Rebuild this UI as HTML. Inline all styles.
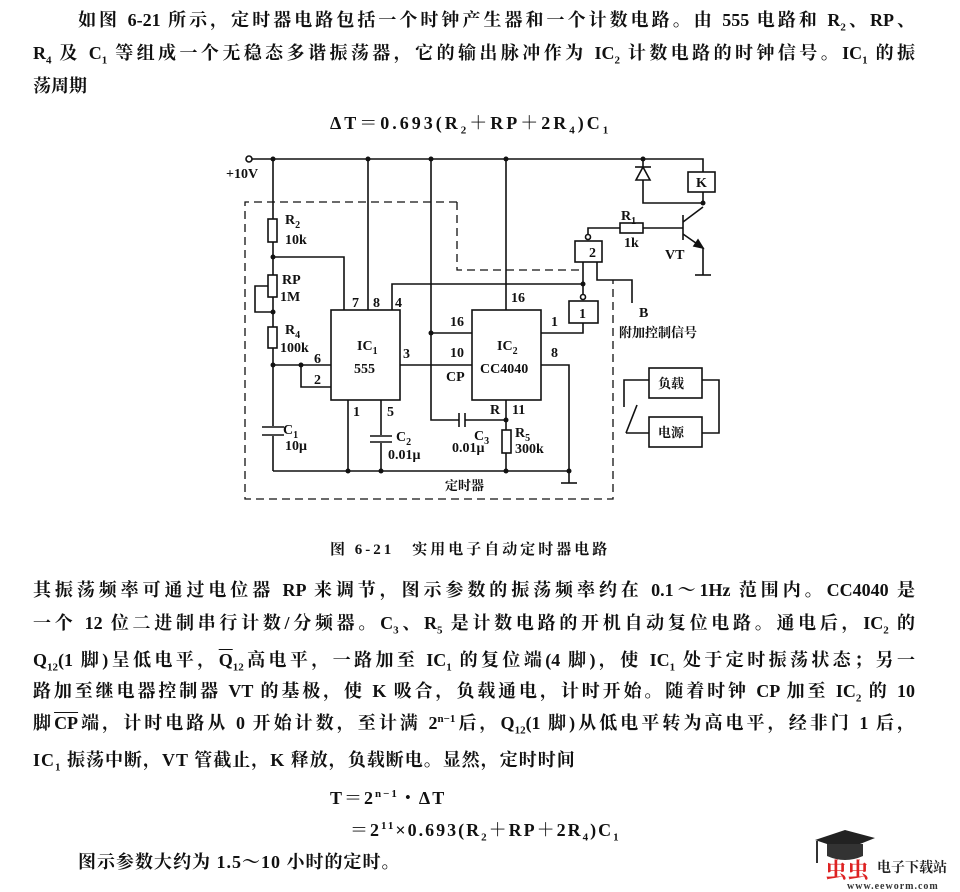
<!DOCTYPE html>
<html><head><meta charset="utf-8"><style>
body{margin:0;background:#fff;}
#w{position:relative;width:960px;height:892px;overflow:hidden;background:#fff;color:#111;font-family:"Liberation Serif","Noto Serif CJK SC",serif;font-weight:bold;}
.l{position:absolute;font-size:18px;line-height:22px;white-space:nowrap;}
.j{text-align:justify;text-align-last:justify;white-space:normal;height:22px;overflow:hidden;}
.f{letter-spacing:2px;}
sub,sup{font-size:11px;line-height:0;}
svg text{font-family:"Liberation Serif","Noto Serif CJK SC",serif;font-weight:bold;fill:#111;}
</style></head><body><div id="w">
<div class="l j" style="left:78px;top:9px;width:837px">如图 6-21 所示，定时器电路包括一个时钟产生器和一个计数电路。由 555 电路和 R<sub>2</sub>、RP、</div>
<div class="l j" style="left:33px;top:42px;width:882px">R<sub>4</sub> 及 C<sub>1</sub> 等组成一个无稳态多谐振荡器，它的输出脉冲作为 IC<sub>2</sub> 计数电路的时钟信号。IC<sub>1</sub> 的振</div>
<div class="l" style="left:33px;top:75px">荡周期</div>
<div class="l f" style="left:330px;top:112px;letter-spacing:3px">ΔT＝0.693(R<sub>2</sub>＋RP＋2R<sub>4</sub>)C<sub>1</sub></div>

<svg style="position:absolute;left:0;top:0" width="960" height="560" viewBox="0 0 960 560">
<g stroke="#111" stroke-width="1.6" fill="none">
<circle cx="249" cy="159" r="3" fill="#fff"/>
<polyline points="252,159 703,159 703,172"/>
<rect x="688" y="172" width="27" height="20"/>
<polyline points="703,192 703,203 643,203 643,159"/>
<polygon points="643,167 636,180 650,180" fill="#fff"/>
<line x1="635" y1="167" x2="651" y2="167"/>
<line x1="273" y1="159" x2="273" y2="471"/>
<rect x="268" y="219" width="9" height="23" fill="#fff"/>
<rect x="268" y="275" width="9" height="22" fill="#fff"/>
<rect x="268" y="327" width="9" height="21" fill="#fff"/>
<polyline points="268,286 255,286 255,312 273,312"/>
<polyline points="273,257 344,257 344,310"/>
<line x1="273" y1="365" x2="331" y2="365"/>
<polyline points="301,365 301,387 331,387"/>
<rect x="262" y="426" width="22" height="10" fill="#fff" stroke="none"/>
<line x1="262" y1="427" x2="284" y2="427"/><line x1="262" y1="435" x2="284" y2="435"/>
<rect x="331" y="310" width="69" height="90"/>
<line x1="368" y1="159" x2="368" y2="310"/>
<polyline points="392,310 392,284 583,284"/>
<line x1="348" y1="400" x2="348" y2="471"/>
<line x1="381" y1="400" x2="381" y2="471"/>
<rect x="370" y="435" width="22" height="8" fill="#fff" stroke="none"/>
<line x1="370" y1="436" x2="392" y2="436"/><line x1="370" y1="442" x2="392" y2="442"/>
<line x1="273" y1="471" x2="569" y2="471"/>
<line x1="400" y1="365" x2="472" y2="365"/>
<rect x="472" y="310" width="69" height="90"/>
<polyline points="431,159 431,420 459,420"/>
<line x1="431" y1="333" x2="472" y2="333"/>
<line x1="459" y1="413" x2="459" y2="427"/><line x1="465" y1="413" x2="465" y2="427"/>
<polyline points="465,420 506,420"/>
<line x1="506" y1="159" x2="506" y2="310"/>
<line x1="506" y1="400" x2="506" y2="471"/>
<rect x="502" y="430" width="9" height="23" fill="#fff"/>
<polyline points="541,365 569,365 569,483"/>
<line x1="561" y1="483" x2="577" y2="483"/>
<polyline points="541,333 583,333 583,323"/>
<rect x="569" y="301" width="29" height="22"/>
<circle cx="583" cy="297" r="2.5" fill="#fff"/>
<line x1="583" y1="294" x2="583" y2="262"/>
<rect x="575" y="241" width="27" height="21"/>
<circle cx="588" cy="237" r="2.5" fill="#fff"/>
<polyline points="588,234 588,228 620,228"/>
<rect x="620" y="223" width="23" height="10"/>
<line x1="643" y1="228" x2="683" y2="228"/>
<polyline points="597,262 597,280 632,280 632,303"/>
<line x1="683" y1="215" x2="683" y2="240"/>
<line x1="683" y1="222" x2="703" y2="207"/>
<polyline points="683,234 703,248 703,275"/>
<polygon points="703,248 694,246 698,240" fill="#111"/>
<line x1="695" y1="275" x2="711" y2="275"/>
<rect x="649" y="368" width="53" height="30"/>
<rect x="649" y="417" width="53" height="30"/>
<polyline points="649,380 624,380 624,407"/>
<line x1="637" y1="405" x2="626" y2="433"/>
<line x1="626" y1="433" x2="649" y2="433"/>
<polyline points="702,380 719,380 719,433 702,433"/>
<polyline stroke-dasharray="8,5" stroke-width="1.3" points="457,202 245,202 245,499 613,499 613,280"/>
<polyline stroke-dasharray="8,5" stroke-width="1.3" points="457,202 457,270 583,270"/>
</g>
<g fill="#111">
<circle cx="273" cy="159" r="2.5"/><circle cx="368" cy="159" r="2.5"/><circle cx="431" cy="159" r="2.5"/><circle cx="506" cy="159" r="2.5"/><circle cx="643" cy="159" r="2.5"/>
<circle cx="273" cy="257" r="2.5"/><circle cx="273" cy="312" r="2.5"/><circle cx="273" cy="365" r="2.5"/><circle cx="301" cy="365" r="2.5"/>
<circle cx="348" cy="471" r="2.5"/><circle cx="381" cy="471" r="2.5"/><circle cx="506" cy="471" r="2.5"/><circle cx="569" cy="471" r="2.5"/>
<circle cx="431" cy="333" r="2.5"/><circle cx="506" cy="420" r="2.5"/><circle cx="583" cy="284" r="2.5"/><circle cx="703" cy="203" r="2.5"/>
</g>
<g font-size="14">
<text x="226" y="178">+10V</text>
<text x="285" y="224">R<tspan font-size="10" dy="4">2</tspan></text><text x="285" y="244">10k</text>
<text x="282" y="284">RP</text><text x="280" y="301">1M</text>
<text x="285" y="334">R<tspan font-size="10" dy="4">4</tspan></text><text x="280" y="352">100k</text>
<text x="314" y="363">6</text><text x="314" y="384">2</text>
<text x="352" y="307">7</text><text x="373" y="307">8</text><text x="395" y="307">4</text>
<text x="357" y="350">IC<tspan font-size="10" dy="4">1</tspan></text><text x="354" y="373">555</text>
<text x="403" y="358">3</text><text x="353" y="416">1</text><text x="387" y="416">5</text>
<text x="283" y="434">C<tspan font-size="10" dy="4">1</tspan></text><text x="285" y="450">10μ</text>
<text x="396" y="441">C<tspan font-size="10" dy="4">2</tspan></text><text x="388" y="459">0.01μ</text>
<text x="450" y="326">16</text><text x="450" y="357">10</text><text x="446" y="381">CP</text>
<text x="497" y="350">IC<tspan font-size="10" dy="4">2</tspan></text><text x="480" y="373">CC4040</text>
<text x="511" y="302">16</text><text x="551" y="326">1</text><text x="551" y="357">8</text>
<text x="490" y="414">R</text><text x="512" y="414">11</text>
<text x="474" y="440">C<tspan font-size="10" dy="4">3</tspan></text><text x="452" y="452">0.01μ</text>
<text x="515" y="437">R<tspan font-size="10" dy="4">5</tspan></text><text x="515" y="453">300k</text>
<text x="589" y="257">2</text><text x="579" y="318">1</text>
<text x="621" y="220">R<tspan font-size="10" dy="4">1</tspan></text><text x="624" y="247">1k</text>
<text x="665" y="259">VT</text><text x="696" y="187">K</text>
<text x="639" y="317">B</text>
<text x="619" y="337" font-size="13">附加控制信号</text>
<text x="658" y="388" font-size="13">负载</text><text x="658" y="437" font-size="13">电源</text>
<text x="445" y="490" font-size="13">定时器</text>
<text x="330" y="554" font-size="15" letter-spacing="3">图 6-21　实用电子自动定时器电路</text>
</g>
</svg>

<div class="l j" style="left:33px;top:579px;width:882px">其振荡频率可通过电位器 RP 来调节，图示参数的振荡频率约在 0.1～1Hz 范围内。CC4040 是</div>
<div class="l j" style="left:33px;top:612px;width:882px">一个 12 位二进制串行计数/分频器。C<sub>3</sub>、R<sub>5</sub> 是计数电路的开机自动复位电路。通电后，IC<sub>2</sub> 的</div>
<div class="l j" style="left:33px;top:649px;width:882px">Q<sub>12</sub>(1 脚)呈低电平，<span style="text-decoration:overline">Q</span><sub>12</sub>高电平，一路加至 IC<sub>1</sub> 的复位端(4 脚)，使 IC<sub>1</sub> 处于定时振荡状态；另一</div>
<div class="l j" style="left:33px;top:680px;width:882px">路加至继电器控制器 VT 的基极，使 K 吸合，负载通电，计时开始。随着时钟 CP 加至 IC<sub>2</sub> 的 10</div>
<div class="l j" style="left:33px;top:712px;width:882px">脚<span style="text-decoration:overline">CP</span>端，计时电路从 0 开始计数，至计满 2<sup>n−1</sup>后，Q<sub>12</sub>(1 脚)从低电平转为高电平，经非门 1 后，</div>
<div class="l" style="left:33px;top:749px;letter-spacing:1px">IC<sub>1</sub> 振荡中断，VT 管截止，K 释放，负载断电。显然，定时时间</div>
<div class="l f" style="left:330px;top:787px">T＝2<sup>n−1</sup>・ΔT</div>
<div class="l f" style="left:350px;top:819px">＝2<sup>11</sup>×0.693(R<sub>2</sub>＋RP＋2R<sub>4</sub>)C<sub>1</sub></div>
<div class="l" style="left:78px;top:851px;letter-spacing:1px">图示参数大约为 1.5～10 小时的定时。</div>

<svg style="position:absolute;left:805px;top:828px" width="155" height="64">
<polygon points="10,12 40,2 70,10 40,22" fill="#222"/>
<path d="M22,16 L22,28 Q40,36 58,28 L58,16" fill="#333"/>
<line x1="12" y1="13" x2="12" y2="35" stroke="#333" stroke-width="2"/>
<text x="20" y="50" font-size="22" style="fill:#d22">虫虫</text>
<text x="72" y="44" font-size="14" style="fill:#222">电子下载站</text>
<text x="42" y="61" font-size="10" style="fill:#333;letter-spacing:1px">www.eeworm.com</text>
</svg>
</div></body></html>
